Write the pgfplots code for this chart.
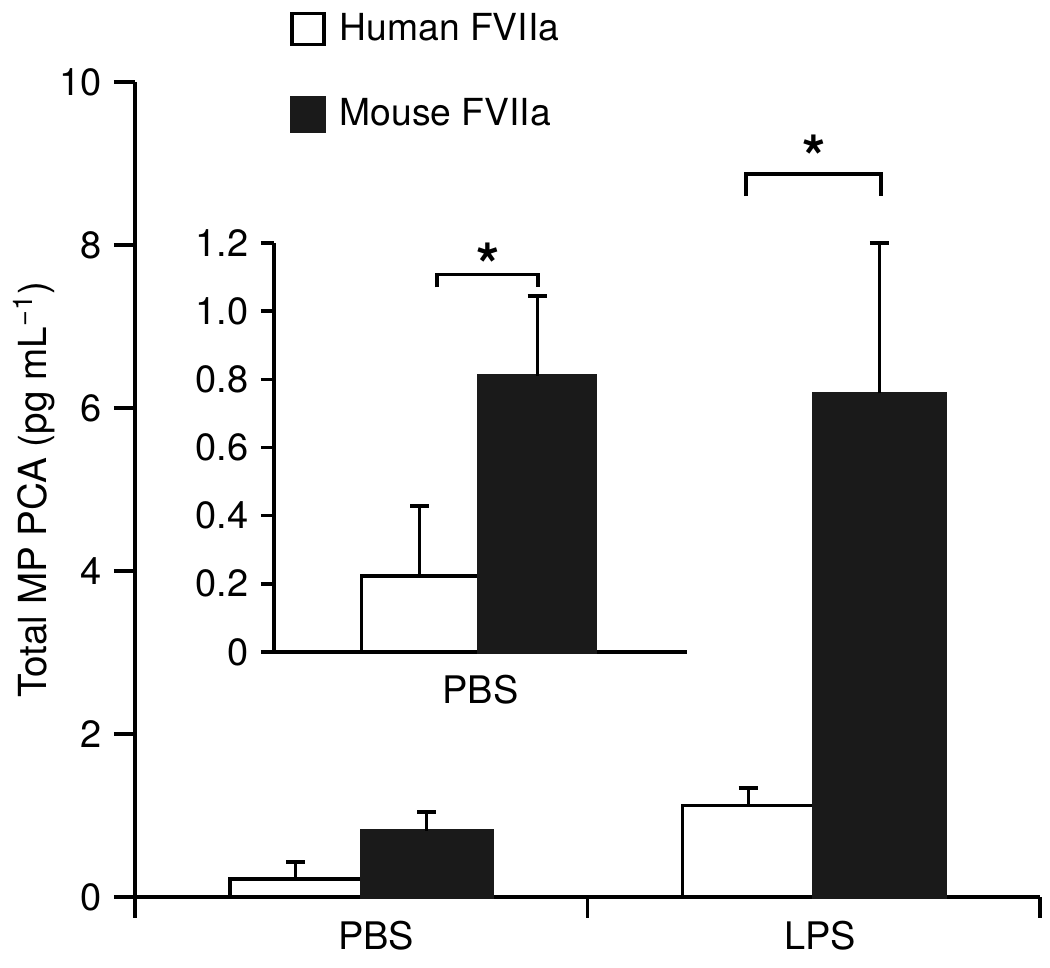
\documentclass[border=0pt]{standalone}
\usepackage{pgfplots}
\pgfplotsset{compat=1.18}
\usepackage{fontspec}
\setmainfont{TeX Gyre Heros}

\definecolor{barblack}{HTML}{1A1A1A}

\pgfplotsset{
  barstyle/.style={ybar, bar width=#1, bar shift=0pt, draw=black, line width=0.9pt,
    error bars/y dir=plus, error bars/y explicit, error bars/error mark=|,
    error bars/error bar style={line width=0.9pt, black},
    error bars/error mark options={line width=1.1pt, mark size=0.95mm, black}},
}

\begin{document}
\begin{tikzpicture}
\useasboundingbox (-1.35,-0.71) rectangle (9.15,8.97);
% main axis
\begin{axis}[
  scale only axis,
  width=9.05cm, height=8.15cm,
  xmin=0, xmax=2, ymin=0, ymax=10,
  axis x line*=bottom, axis y line*=left,
  axis line style={line width=1pt, -},
  xtick={0,1,2}, xticklabels={},
  extra x ticks={0.533,1.514}, extra x tick labels={PBS,LPS},
  extra x tick style={major tick length=0pt, xticklabel style={yshift=-1.2mm}},
  ytick={0,2,...,10},
  tick align=outside, major tick length=2.1mm,
  tick style={line width=1pt, black},
  tick label style={font=\fontsize{10.8}{12}\selectfont},
  /pgf/number format/assume math mode=true,
  ylabel={Total MP PCA (pg mL\textsuperscript{−1})},
  ylabel style={font=\fontsize{11}{13}\selectfont, at={(axis description cs:-0.112,0.5)}, anchor=center},
  legend style={draw=none, fill=none, at={(0.171,1.094)}, anchor=north west,
    font=\fontsize{10.6}{12}\selectfont, row sep=3.9mm, inner sep=0pt},
  legend cell align=left,
  clip=false,
]
\addlegendimage{legend image code/.code={\draw[fill=white, line width=0.9pt] (0mm,-1.55mm) rectangle (3.2mm,1.55mm); \path (4.0mm,0);}}
\addlegendentry{Human FVIIa}
\addlegendimage{legend image code/.code={\draw[fill=barblack, draw=barblack, line width=0.9pt] (0mm,-1.7mm) rectangle (3.2mm,1.7mm); \path (4.0mm,0);}}
\addlegendentry{Mouse FVIIa}

\addplot[barstyle=0.29, fill=white] coordinates {(0.355,0.22) +- (0,0.21) (1.355,1.12) +- (0,0.22)};
\addplot[barstyle=0.29, fill=barblack, draw=barblack] coordinates {(0.645,0.81) +- (0,0.235) (1.645,6.18) +- (0,1.84)};

\draw[line width=1pt] (axis cs:1.35,8.60) -- (axis cs:1.35,8.87) -- (axis cs:1.649,8.87) -- (axis cs:1.649,8.60);
\node[anchor=base, inner sep=0pt, font=\fontsize{17}{17}\bfseries] at (axis cs:1.5,8.81) {*};
\end{axis}

% inset axis
\begin{axis}[
  at={(1.39cm,2.45cm)}, anchor=south west,
  scale only axis,
  width=4.13cm, height=4.09cm,
  xmin=0, xmax=1, ymin=0, ymax=1.2,
  axis x line*=bottom, axis y line*=left,
  axis line style={line width=1pt, -},
  xtick={0.5}, xticklabels={PBS},
  x tick style={draw=none},
  xticklabel style={yshift=0.2mm},
  ytick={0,0.2,...,1.2},
  yticklabels={0,0.2,0.4,0.6,0.8,1.0,1.2},
  tick align=outside, major tick length=1.3mm,
  tick style={line width=1pt, black},
  tick label style={font=\fontsize{10.8}{12}\selectfont},
  /pgf/number format/assume math mode=true,
  clip=false,
]
\addplot[barstyle=0.283, fill=white] coordinates {(0.353,0.223) +- (0,0.205)};
\addplot[barstyle=0.283, fill=barblack, draw=barblack] coordinates {(0.637,0.81) +- (0,0.235)};

\draw[line width=1pt] (axis cs:0.395,1.070) -- (axis cs:0.395,1.108) -- (axis cs:0.639,1.108) -- (axis cs:0.639,1.070);
\node[anchor=base, inner sep=0pt, font=\fontsize{17}{17}\bfseries] at (axis cs:0.518,1.073) {*};
\end{axis}
\end{tikzpicture}
\end{document}
